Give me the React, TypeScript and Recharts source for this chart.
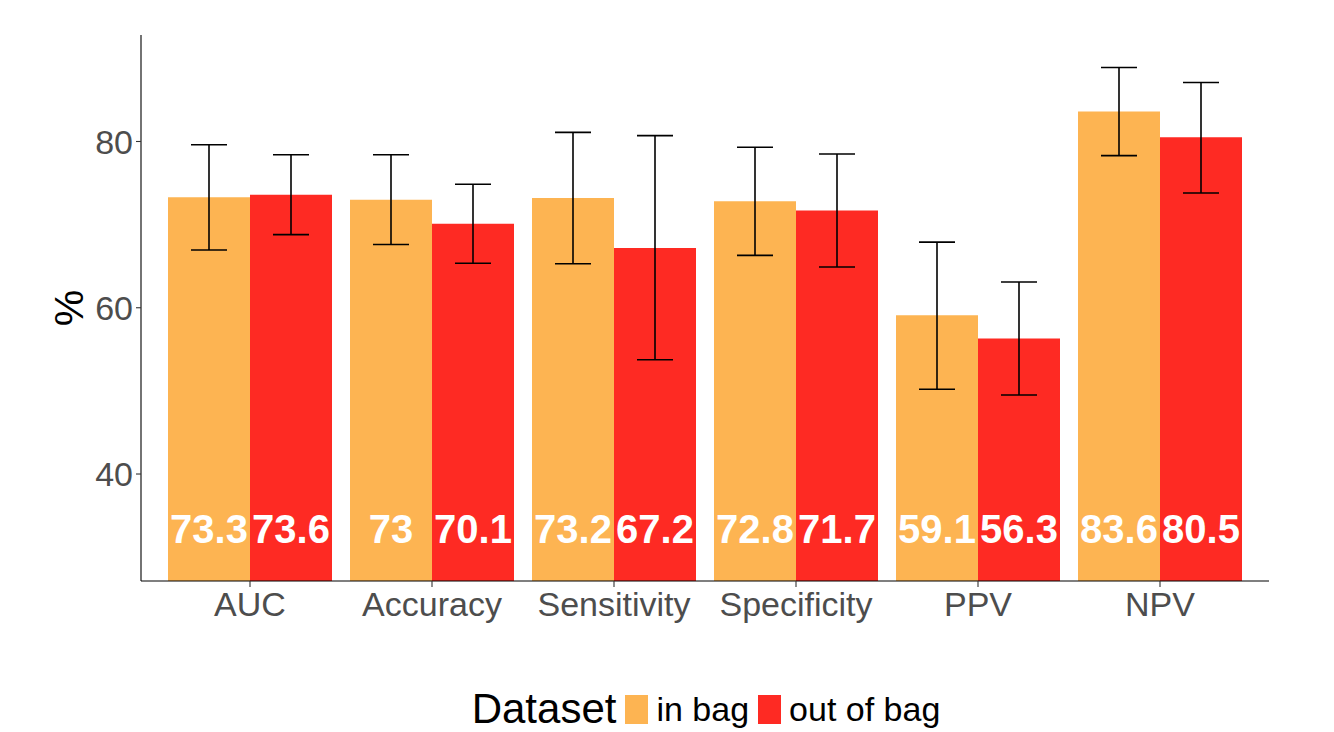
import React from 'react';
import { BarChart, Bar, XAxis, YAxis, ErrorBar, LabelList, Legend } from 'recharts';

const categories = ['AUC', 'Accuracy', 'Sensitivity', 'Specificity', 'PPV', 'NPV'];
const inBag = [73.3, 73, 73.2, 72.8, 59.1, 83.6];
const outOfBag = [73.6, 70.1, 67.2, 71.7, 56.3, 80.5];
const inBagLower = [66.95, 67.6, 65.3, 66.3, 50.2, 78.3];
const inBagUpper = [79.6, 78.4, 81.1, 79.3, 67.9, 88.9];
const outOfBagLower = [68.8, 65.35, 53.75, 64.9, 49.5, 73.8];
const outOfBagUpper = [78.4, 74.85, 80.7, 78.5, 63.1, 87.1];
const yTicks = [40, 60, 80];
const yDomain = [27.13, 92.81];

const IN_COLOR = '#FDB452';
const OUT_COLOR = '#FE2A23';
const FONT = '"Liberation Sans", Arial, Helvetica, sans-serif';

const data = categories.map((c, i) => ({
  metric: c,
  inBag: inBag[i],
  outOfBag: outOfBag[i],
  inErr: [inBag[i] - inBagLower[i], inBagUpper[i] - inBag[i]],
  outErr: [outOfBag[i] - outOfBagLower[i], outOfBagUpper[i] - outOfBag[i]],
}));

const BarValueLabel = (props: any) => {
  const { x, y, width, height, value } = props;
  return (
    <text
      x={Number(x) + Number(width) / 2}
      y={Number(y) + Number(height) - 38}
      textAnchor="middle"
      fill="#ffffff"
      fontWeight="bold"
      fontSize={40}
      fontFamily={FONT}
    >
      {value}
    </text>
  );
};

const YTitle = (props: any) => {
  const vb = props.viewBox || { x: 0, y: 35, width: 141, height: 546 };
  const cx = vb.x + 68;
  const cy = vb.y + vb.height / 2;
  return (
    <text
      x={cx}
      y={cy}
      transform={`rotate(-90 ${cx} ${cy})`}
      textAnchor="middle"
      dy="0.36em"
      fontSize={41}
      fontFamily={FONT}
      fill="#000"
    >
      %
    </text>
  );
};

const LegendContent = (props: any) => {
  const items = (props.payload && props.payload.length
    ? props.payload
    : [
        { value: 'in bag', color: IN_COLOR },
        { value: 'out of bag', color: OUT_COLOR },
      ]) as any[];
  return (
    <div
      style={{
        display: 'flex',
        alignItems: 'center',
        justifyContent: 'center',
        paddingLeft: 78,
        paddingTop: 14,
        height: 60,
        boxSizing: 'border-box',
        fontFamily: FONT,
        color: '#000',
      }}
    >
      <span style={{ fontSize: 42, lineHeight: 1, marginRight: 9 }}>Dataset</span>
      {items.map((it, i) => (
        <React.Fragment key={i}>
          <span style={{ display: 'inline-block', width: 23, height: 29, background: it.color, marginRight: 8 }} />
          <span style={{ fontSize: 34, lineHeight: 1, marginRight: i === items.length - 1 ? 0 : 9 }}>{it.value}</span>
        </React.Fragment>
      ))}
    </div>
  );
};

export default function App() {
  return (
    <div style={{ position: 'absolute', left: 0, top: 0, width: 1334, height: 732, background: '#fff' }}>
      <BarChart
        width={1334}
        height={732}
        data={data}
        margin={{ top: 35, right: 65, left: 0, bottom: 0 }}
        barCategoryGap={9}
        barGap={0}
      >
        <XAxis
          dataKey="metric"
          height={91}
          padding={{ left: 18, right: 18 }}
          axisLine={{ stroke: '#000', strokeWidth: 1.1 }}
          tickLine={{ stroke: '#333', strokeWidth: 1.1 }}
          tickSize={6}
          tickMargin={5}
          tick={{ fill: '#4d4d4d', fontSize: 34, fontFamily: FONT }}
          interval={0}
        />
        <YAxis
          type="number"
          width={141}
          domain={yDomain}
          allowDataOverflow
          ticks={yTicks}
          axisLine={{ stroke: '#000', strokeWidth: 1.1 }}
          tickLine={{ stroke: '#333', strokeWidth: 1.1 }}
          tickSize={5}
          tickMargin={3}
          tick={{ fill: '#4d4d4d', fontSize: 34, fontFamily: FONT }}
          label={<YTitle />}
        />
        <Legend
          verticalAlign="bottom"
          align="left"
          wrapperStyle={{ left: 0, bottom: 0, width: 1334, height: 60 }}
          content={<LegendContent />}
        />
        <Bar dataKey="inBag" name="in bag" fill={IN_COLOR} isAnimationActive={false}>
          <ErrorBar dataKey="inErr" direction="y" width={18} stroke="#000" strokeWidth={1.6} />
          <LabelList dataKey="inBag" content={<BarValueLabel />} />
        </Bar>
        <Bar dataKey="outOfBag" name="out of bag" fill={OUT_COLOR} isAnimationActive={false}>
          <ErrorBar dataKey="outErr" direction="y" width={18} stroke="#000" strokeWidth={1.6} />
          <LabelList dataKey="outOfBag" content={<BarValueLabel />} />
        </Bar>
      </BarChart>
    </div>
  );
}
